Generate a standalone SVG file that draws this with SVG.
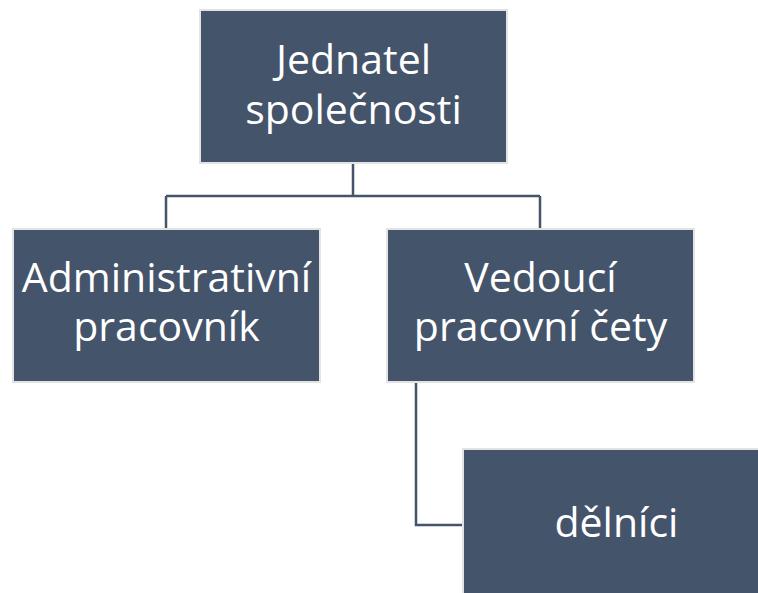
<svg xmlns="http://www.w3.org/2000/svg" width="758" height="593" viewBox="0 0 758 593">
<style>
.box{fill:#44546a;stroke:#e3e3e3;stroke-width:2}
.t{fill:#ffffff;font-family:"Open Sans","Liberation Sans",sans-serif;font-size:41px;text-anchor:middle}
.c{fill:none;stroke:#44546a;stroke-width:2.5}
</style>
<rect width="758" height="593" fill="#ffffff"/>
<g id="connectors">
<path class="c" d="M353 163 V196 M166 196 H540 M166 196 V229 M540 196 V229"/>
<path class="c" d="M416 382 V525 H463"/>
</g>
<g id="n1">
<rect class="box" x="200" y="10" width="307" height="153"/>
<text class="t" x="353.5" y="74">Jednatel</text>
<text class="t" x="353.5" y="124">společnosti</text>
</g>
<g id="n2">
<rect class="box" x="13" y="229" width="307" height="153"/>
<text class="t" x="166.5" y="292">Administrativní</text>
<text class="t" x="166.5" y="341">pracovník</text>
</g>
<g id="n3">
<rect class="box" x="387" y="229" width="307" height="153"/>
<text class="t" x="540.5" y="292">Vedoucí</text>
<text class="t" x="540.5" y="341">pracovní čety</text>
</g>
<g id="n4">
<rect class="box" x="463" y="449" width="307" height="153"/>
<text class="t" x="616.5" y="537">dělníci</text>
</g>
</svg>
